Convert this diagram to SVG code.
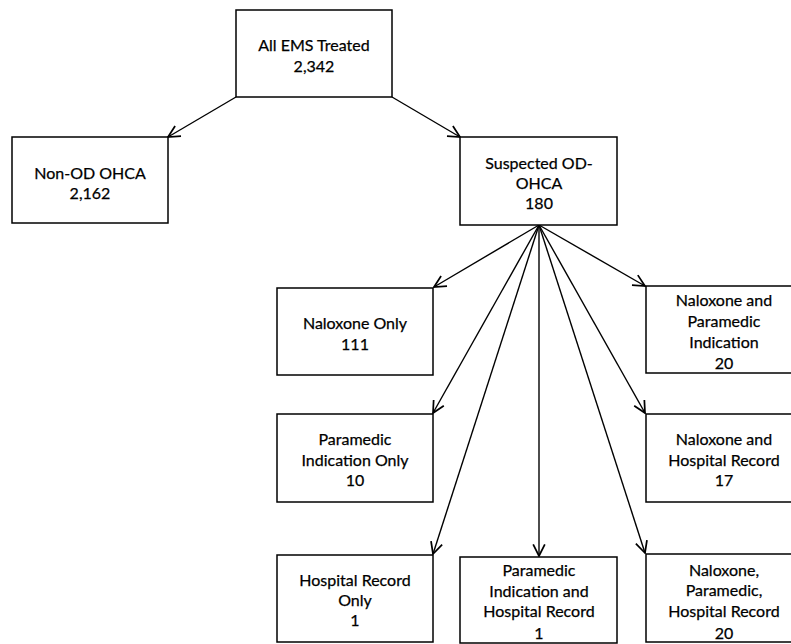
<svg xmlns="http://www.w3.org/2000/svg" width="791" height="644" viewBox="0 0 791 644">
<defs>
<style>
.box{fill:#fff;stroke:#000;stroke-width:1.5}
.t{font-family:Lato,"Open Sans","Liberation Sans",sans-serif;font-size:16px;fill:#000;stroke:#000;stroke-width:0.25;text-anchor:middle}
.c{stroke:#000;stroke-width:1.4;fill:none;marker-end:url(#ah)}
</style>
<marker id="ah" viewBox="0 0 12 12" refX="11" refY="6" markerWidth="14" markerHeight="14" markerUnits="userSpaceOnUse" orient="auto">
<path d="M1,1 L11,6 L1,11" fill="none" stroke="#000" stroke-width="1.5"/>
</marker>
</defs>
<rect width="791" height="644" fill="#fff"/>
<g id="connectors">
<line class="c" x1="236" y1="97" x2="168" y2="137"/>
<line class="c" x1="392" y1="97" x2="460" y2="137"/>
<line class="c" x1="539" y1="225" x2="434" y2="287"/>
<line class="c" x1="539" y1="225" x2="645" y2="286"/>
<line class="c" x1="539" y1="225" x2="433" y2="413"/>
<line class="c" x1="539" y1="225" x2="433" y2="554"/>
<line class="c" x1="539" y1="225" x2="539" y2="556"/>
<line class="c" x1="539" y1="225" x2="645" y2="413"/>
<line class="c" x1="539" y1="225" x2="645" y2="553"/>
</g>
<g id="n-all">
<rect class="box" x="236" y="10" width="156" height="87"/>
<text class="t" x="314" y="51">All EMS Treated</text>
<text class="t" x="314" y="72">2,342</text>
</g>
<g id="n-nonod">
<rect class="box" x="12" y="137" width="156" height="86"/>
<text class="t" x="90" y="179">Non-OD OHCA</text>
<text class="t" x="90" y="199">2,162</text>
</g>
<g id="n-susp">
<rect class="box" x="460" y="137" width="157" height="88"/>
<text class="t" x="539" y="169">Suspected OD-</text>
<text class="t" x="539" y="189">OHCA</text>
<text class="t" x="539" y="209">180</text>
</g>
<g id="n-nalox">
<rect class="box" x="277" y="288" width="156" height="87"/>
<text class="t" x="355" y="329">Naloxone Only</text>
<text class="t" x="355" y="350">111</text>
</g>
<g id="n-nalox-para">
<rect class="box" x="646" y="286" width="156" height="87"/>
<text class="t" x="724" y="306">Naloxone and</text>
<text class="t" x="724" y="327">Paramedic</text>
<text class="t" x="724" y="348">Indication</text>
<text class="t" x="724" y="369">20</text>
</g>
<g id="n-para">
<rect class="box" x="277" y="414" width="156" height="88"/>
<text class="t" x="355" y="445">Paramedic</text>
<text class="t" x="355" y="466">Indication Only</text>
<text class="t" x="355" y="486">10</text>
</g>
<g id="n-nalox-hosp">
<rect class="box" x="646" y="414" width="156" height="88"/>
<text class="t" x="724" y="445">Naloxone and</text>
<text class="t" x="724" y="466">Hospital Record</text>
<text class="t" x="724" y="486">17</text>
</g>
<g id="n-hosp">
<rect class="box" x="277" y="555" width="156" height="87"/>
<text class="t" x="355" y="586">Hospital Record</text>
<text class="t" x="355" y="606">Only</text>
<text class="t" x="355" y="626">1</text>
</g>
<g id="n-para-hosp">
<rect class="box" x="460" y="557" width="157" height="86"/>
<text class="t" x="539" y="576">Paramedic</text>
<text class="t" x="539" y="597">Indication and</text>
<text class="t" x="539" y="617">Hospital Record</text>
<text class="t" x="539" y="639">1</text>
</g>
<g id="n-all3">
<rect class="box" x="646" y="554" width="156" height="88"/>
<text class="t" x="724" y="576">Naloxone,</text>
<text class="t" x="724" y="596">Paramedic,</text>
<text class="t" x="724" y="617">Hospital Record</text>
<text class="t" x="724" y="639">20</text>
</g>
</svg>
